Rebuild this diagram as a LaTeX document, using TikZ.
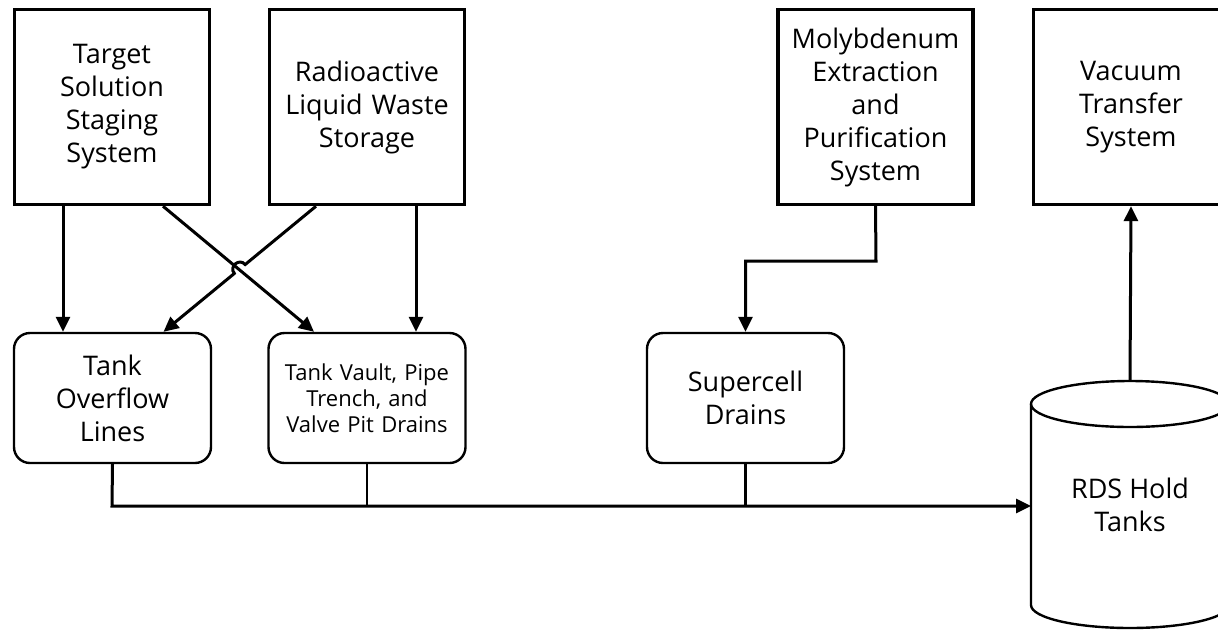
\documentclass[tikz,border=0pt]{standalone}
\usepackage{fontspec}
\setmainfont{Open Sans}
\usetikzlibrary{arrows.meta,calc}

\tikzset{
  sysbox/.style={draw, line width=3.4pt, minimum width=195pt, minimum height=195pt,
    text width=195pt, align=center, inner sep=0pt,
    font=\fontsize{27}{33}\selectfont},
  drainbox/.style={draw, line width=2.4pt, rounded corners=16pt,
    minimum width=197pt, minimum height=130pt, text width=195pt, align=center,
    inner sep=0pt, font=\fontsize{27}{33}\selectfont},
  smalltext/.style={font=\fontsize{22}{26}\selectfont},
  flow/.style={line width=3pt, -{Triangle[length=15pt,width=14pt]}},
  pipe/.style={line width=3pt},
  thinpipe/.style={line width=2.2pt},
  tankline/.style={line width=2.4pt},
}

\begin{document}
\begin{tikzpicture}[x=1pt,y=-1pt]
  \useasboundingbox (0,0) rectangle (1218,630);
  \fill[white] (0,0) rectangle (1218,630);

  % upstream systems
  \node[sysbox] (tss)  at (112,107)  {Target\\Solution\\Staging\\System};
  \node[sysbox] (rlws) at (367,107)  {Radioactive\\Liquid Waste\\Storage};
  \node[sysbox] (moly) at (875.5,107) {Molybdenum\\Extraction\\and\\Purification\\System};
  \node[sysbox] (vts)  at (1131,107) {Vacuum\\Transfer\\System};

  % drain collection points
  \node[drainbox] (tov)   at (112.5,398) {Tank\\Overflow\\Lines};
  \node[drainbox, smalltext] (vault) at (367,398) {Tank Vault, Pipe\\Trench, and\\Valve Pit Drains};
  \node[drainbox] (super) at (745.5,398) {Supercell\\Drains};

  % hold tank cylinder
  \draw[tankline, fill=white] (1031,404) -- (1031,605)
    arc[start angle=180, end angle=360, x radius=99pt, y radius=23pt] -- (1229,404);
  \draw[tankline] (1130,404) ellipse [x radius=99pt, y radius=23pt];
  \node[font=\fontsize{27}{33}\selectfont, align=center] (rds) at (1130,505) {RDS Hold\\Tanks};
  \coordinate (rdstop)  at (1130,381);
  \coordinate (rdsleft) at (1031,506);

  % straight feeds
  \draw[flow] ([xshift=-49pt]tss.south) -- ([xshift=-49.5pt]tov.north);
  \draw[flow] ([xshift=49pt]rlws.south) -- ([xshift=49pt]vault.north);

  % crossing feeds
  \draw[flow] ([xshift=51pt]tss.south) -- ([xshift=-53pt]vault.north);
  \coordinate (xa) at ([xshift=-51pt]rlws.south);
  \coordinate (xb) at ([xshift=51pt]tov.north);
  \coordinate (xm) at ($(xa)!0.5!(xb)$);
  \coordinate (h1) at ($(xm)!7pt!(xa)$);
  \coordinate (h2) at ($(xm)!7pt!(xb)$);
  \draw[flow] (xa) -- (h1)
    .. controls ($(h1)!9pt!-90:(xm)$) and ($(h2)!9pt!90:(xm)$) .. (h2) -- (xb);

  % molybdenum line to supercell
  \coordinate (mbend) at (876,261);
  \draw[flow] (moly.south) -- (mbend) -| (super.north);

  % common drain header
  \coordinate (hdr) at (112,506);
  \draw[flow] (tov.south) -- (hdr) -- (rdsleft);
  \draw[thinpipe] (vault.south) -- (vault.south |- hdr);
  \draw[pipe] (super.south) -- (super.south |- hdr);

  % vacuum transfer
  \draw[flow] (rdstop) -- (vts.south);
\end{tikzpicture}
\end{document}
